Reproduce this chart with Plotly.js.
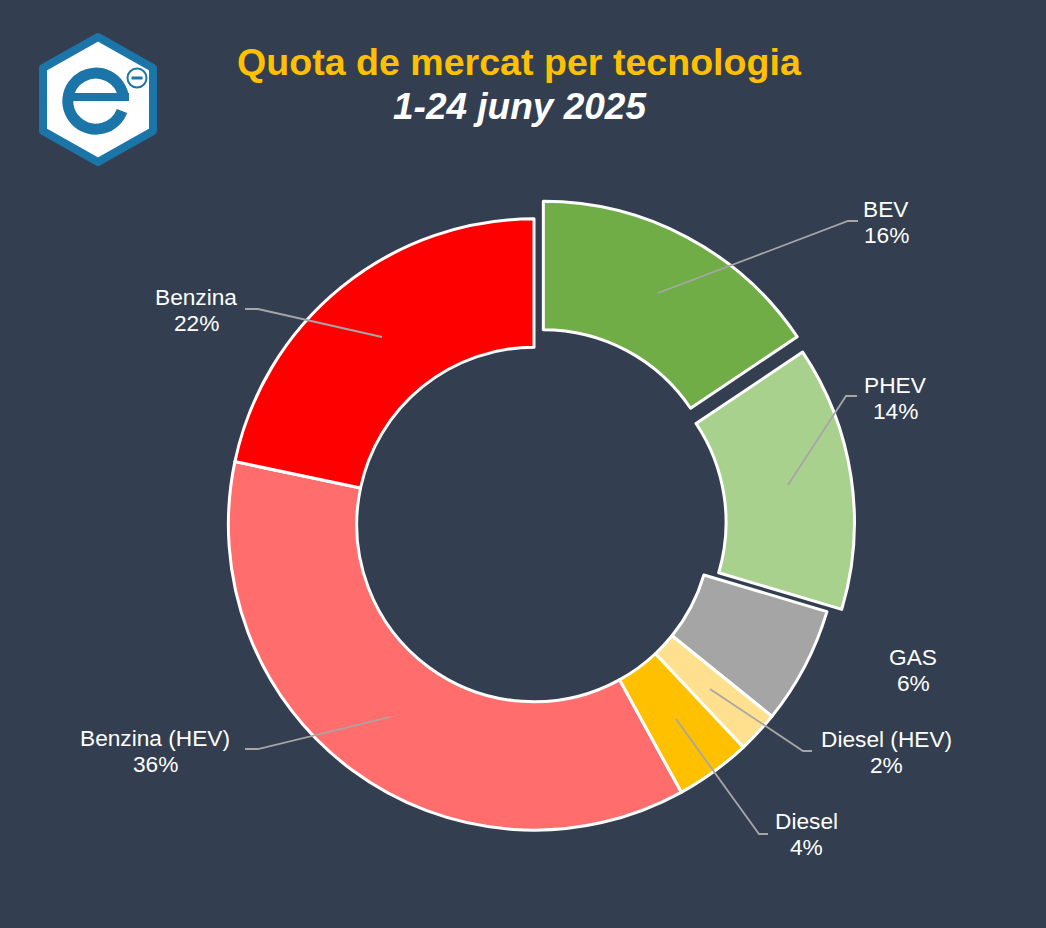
<!DOCTYPE html>
<html><head><meta charset="utf-8">
<script src="https://cdn.plot.ly/plotly-3.0.1.min.js"></script>
<style>html,body{margin:0;padding:0;background:#333F50}</style></head>
<body><div id="chart" style="width:1046px;height:928px"></div>
<script>
const categories = ["BEV","PHEV","GAS","Diesel (HEV)","Diesel","Benzina (HEV)","Benzina"];
const shareValues = [15.6,14.0,6.2,2.2,4.0,36.3,21.7];
const sliceColors = ["#70AD47","#A9D18E","#A5A5A5","#FFE08F","#FFC000","#FF6D6D","#FF0000"];
const slicePull = [0.065,0.049,0,0,0,0,0];

const W = 1046, H = 928;
const fx = x => x / W, fy = y => 1 - y / H;
const cx = 534, cy = 524.5, box = 325.5;

const labelPos = [[886,222],[895,398],[913,670],[886,752],[806,834],[155,751],[196,310]];
const leaders = [
  [[658,293],[848,221],[858,221]],
  [[788,485],[846,396],[857,396]],
  null,
  [[710,689],[803,751],[812,751]],
  [[676,719],[759,834],[768,834]],
  [[390,717],[258,749],[245,749]],
  [[382,337],[258,309],[245,309]]
];

const labelFont = {family:"Liberation Sans, Arial, sans-serif", size:22.7, color:"#FFFFFF"};
const textAt = (text,x,y,font) => ({text, x:fx(x), y:fy(y), xref:"paper", yref:"paper",
  xanchor:"center", yanchor:"middle", showarrow:false, align:"center", font});
const annotations = [];
categories.forEach((c,i)=>{
  annotations.push(textAt(c, labelPos[i][0], labelPos[i][1]-13, labelFont));
  annotations.push(textAt(Math.round(shareValues[i]) + "%", labelPos[i][0], labelPos[i][1]+13, labelFont));
});
annotations.push(textAt("<b>Quota de mercat per tecnologia</b>", 519, 62,
  {family:"Liberation Sans, Arial, sans-serif", size:37.6, color:"#FFC000"}));
annotations.push(textAt("<b><i>1-24 juny 2025</i></b>", 520, 106,
  {family:"Liberation Sans, Arial, sans-serif", size:37, color:"#FFFFFF"}));

const shapes = leaders.filter(Boolean).map(p=>({
  type:"path", xref:"paper", yref:"paper", layer:"above",
  path:p.map((q,i)=>(i?"L":"M")+fx(q[0])+","+fy(q[1])).join(" "),
  line:{color:"#A6A6A6", width:1.8}
}));

const logoBlue = "#1B75A9";
const logo = `<svg xmlns="http://www.w3.org/2000/svg" width="130" height="140" viewBox="33 30 130 140">
<path d="M98 37 L153 68 L153 131 L98 162 L43 131 L43 68 Z" fill="#fff" stroke="${logoBlue}" stroke-width="8" stroke-linejoin="round"/>
<path d="M123.5 97 A28 28 0 1 0 122 111" fill="none" stroke="${logoBlue}" stroke-width="11"/>
<rect x="68" y="93" width="61" height="8" fill="${logoBlue}"/>
<circle cx="137" cy="78" r="9.5" fill="#fff" stroke="${logoBlue}" stroke-width="2"/>
<rect x="131.5" y="76.5" width="11" height="3" fill="${logoBlue}"/>
</svg>`;

Plotly.newPlot("chart",[{
  type:"pie", labels:categories, values:shareValues, sort:false, direction:"clockwise", rotation:0,
  hole:0.58, pull:slicePull, textinfo:"none", showlegend:false,
  marker:{colors:sliceColors, line:{color:"#FFFFFF", width:3}},
  domain:{x:[fx(cx-box),fx(cx+box)], y:[fy(cy+box),fy(cy-box)]}
}],{
  width:W, height:H, margin:{l:0,r:0,t:0,b:0}, paper_bgcolor:"#333F50", showlegend:false,
  annotations, shapes,
  images:[{source:"data:image/svg+xml;utf8,"+encodeURIComponent(logo), xref:"paper", yref:"paper",
    x:fx(33), y:fy(30), sizex:130/W, sizey:140/H, xanchor:"left", yanchor:"top", sizing:"stretch", layer:"above"}]
},{displayModeBar:false,staticPlot:true});
</script></body></html>
